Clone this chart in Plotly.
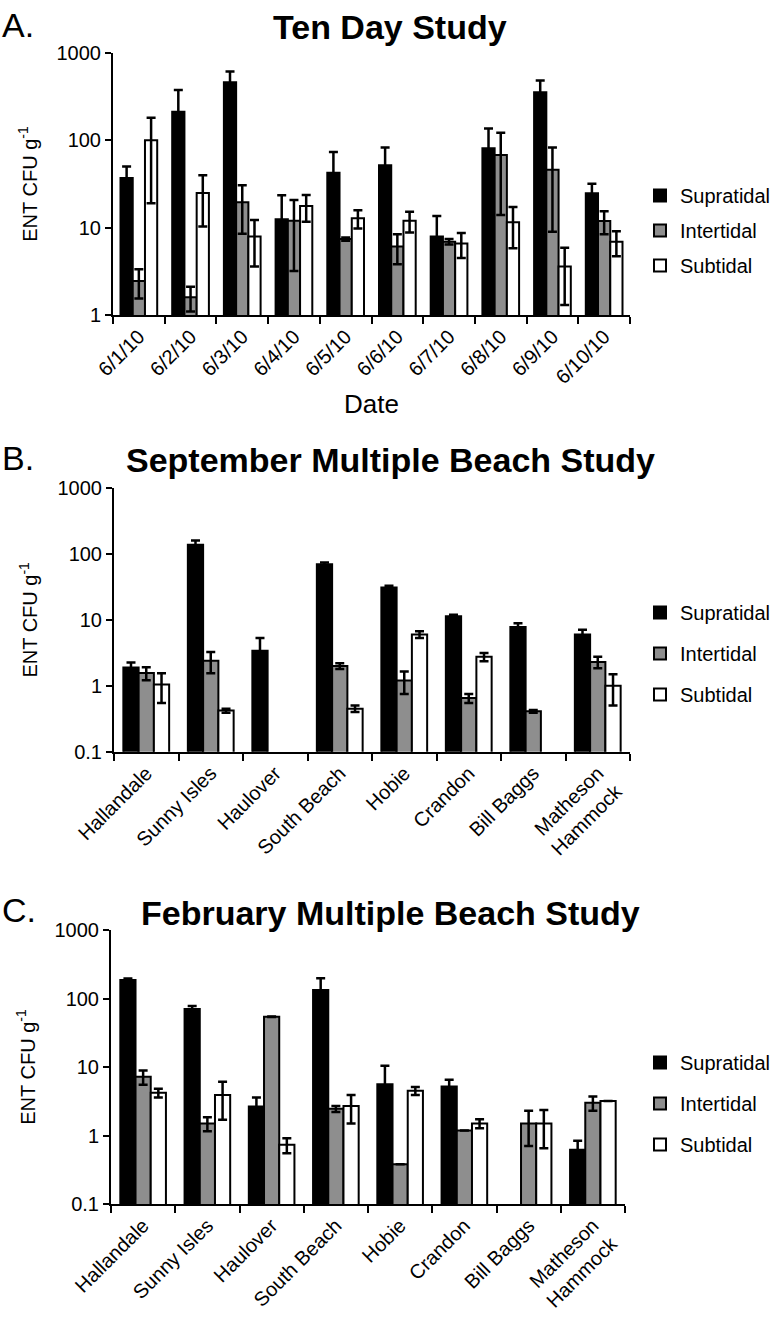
import plotly.graph_objects as go

# ---------------- data ----------------
dates = ["6/1/10", "6/2/10", "6/3/10", "6/4/10", "6/5/10",
         "6/6/10", "6/7/10", "6/8/10", "6/9/10", "6/10/10"]
a_supra = [37, 213, 463, 12.5, 42.6, 52, 7.9, 81, 356, 24.8]
a_supra_err = [13, 165, 150, 11, 31, 31, 5.7, 56, 127, 7]
a_inter = [2.45, 1.6, 19.5, 12, 7.4, 6.1, 6.9, 68, 46, 11.9]
a_inter_err = [0.9, 0.5, 11, 8.8, 0.3, 2.3, 0.5, 54, 37, 3.5]
a_sub = [100, 25, 7.9, 17.7, 12.8, 12, 6.6, 11.5, 3.6, 6.9]
a_sub_err = [81, 14.7, 4.3, 6, 3, 3.2, 2.1, 5.7, 2.3, 2.2]

beaches = ["Hallandale", "Sunny Isles", "Haulover", "South Beach", "Hobie",
           "Crandon", "Bill Baggs", "Matheson<br>Hammock"]
b_supra = [1.9, 138, 3.4, 70, 31, 11.3, 7.8, 6.0]
b_supra_err = [0.35, 22, 1.9, 4, 2, 0.7, 1.1, 1.1]
b_inter = [1.56, 2.4, None, 2.0, 1.2, 0.65, 0.41, 2.3]
b_inter_err = [0.35, 0.85, 0, 0.2, 0.45, 0.1, 0.02, 0.45]
b_sub = [1.05, 0.42, None, 0.45, 6.0, 2.75, None, 1.0]
b_sub_err = [0.5, 0.03, 0, 0.05, 0.7, 0.4, 0, 0.5]

c_supra = [186, 70, 2.65, 133, 5.6, 5.2, None, 0.62]
c_supra_err = [10, 8, 0.95, 64, 4.8, 1.3, 0, 0.22]
c_inter = [7.2, 1.5, 54, 2.45, 0.38, 1.18, 1.5, 3.0]
c_inter_err = [1.7, 0.35, 0.5, 0.25, 0, 0, 0.8, 0.7]
c_sub = [4.2, 3.9, 0.73, 2.7, 4.5, 1.5, 1.5, 3.2]
c_sub_err = [0.6, 2.2, 0.18, 1.2, 0.6, 0.22, 0.85, 0]

series_names = ["Supratidal", "Intertidal", "Subtidal"]
series_colors = ["#000000", "#8e8e8e", "#ffffff"]

titles = ["Ten Day Study", "September Multiple Beach Study",
          "February Multiple Beach Study"]
panel_labels = ["A.", "B.", "C."]
y_ticks_a = [1, 10, 100, 1000]
y_ticks_a_text = ["1", "10", "100", "1000"]
y_ticks_bc = [0.1, 1, 10, 100, 1000]
y_ticks_bc_text = ["0.1", "1", "10", "100", "1000"]
y_title = "ENT CFU g<sup>-1</sup>"
x_title_a = "Date"

# ---------------- geometry ----------------
W, H = 780, 1319
FONT = "Liberation Sans, Arial, sans-serif"


def px_x(x):
    return x / W


def px_y(y):
    return (H - y) / H


panels = [
    dict(cats=dates, data=[(a_supra, a_supra_err), (a_inter, a_inter_err), (a_sub, a_sub_err)],
         xdom=(113, 630), ydom=(315, 53), yrange=[0, 3], legend="legend", legtop=176, gap=6,
         tv=y_ticks_a, tt=y_ticks_a_text),
    dict(cats=beaches, data=[(b_supra, b_supra_err), (b_inter, b_inter_err), (b_sub, b_sub_err)],
         xdom=(114, 630), ydom=(751.7, 488), yrange=[-1, 3], legend="legend2", legtop=593, gap=12,
         tv=y_ticks_bc, tt=y_ticks_bc_text),
    dict(cats=beaches, data=[(c_supra, c_supra_err), (c_inter, c_inter_err), (c_sub, c_sub_err)],
         xdom=(111, 625), ydom=(1204, 930), yrange=[-1, 3], legend="legend3", legtop=1043, gap=12,
         tv=y_ticks_bc, tt=y_ticks_bc_text),
]

fig = go.Figure()

for i, p in enumerate(panels):
    sfx = "" if i == 0 else str(i + 1)
    for j, (vals, errs) in enumerate(p["data"]):
        fig.add_trace(go.Bar(
            x=p["cats"], y=vals, name=series_names[j],
            xaxis="x" + sfx, yaxis="y" + sfx,
            legend=p["legend"], legendgroup=f"{p['legend']}_{j}",
            marker=dict(color=series_colors[j], line=dict(color="black", width=2)),
            error_y=dict(type="data", array=errs, visible=True, color="black",
                         thickness=2.5, width=4.5),
        ))

layout = dict(
    width=W, height=H, margin=dict(l=0, r=0, t=0, b=0, autoexpand=False),
    paper_bgcolor="white", plot_bgcolor="white",
    font=dict(family=FONT, color="black", size=20),
    barmode="group", bargap=0.29, bargroupgap=0,
    showlegend=True,
)

annotations = []
for i, p in enumerate(panels):
    sfx = "" if i == 0 else str(i + 1)
    xa = dict(
        domain=[px_x(p["xdom"][0]), px_x(p["xdom"][1])],
        anchor="y" + sfx, type="category", automargin=False,
        showline=True, linecolor="black", linewidth=2,
        ticks="outside", ticklen=7, tickwidth=2, tickcolor="black",
        tickson="boundaries", tickangle=-45,
        tickfont=dict(size=20, family=FONT), showgrid=False, zeroline=False,
    )
    if i == 0:
        xa["title"] = dict(text=x_title_a, font=dict(size=26, family=FONT), standoff=8)
    ya = dict(
        domain=[px_y(p["ydom"][0]), px_y(p["ydom"][1])],
        anchor="x" + sfx, type="log", range=p["yrange"], automargin=False,
        tickvals=p["tv"], ticktext=p["tt"],
        showline=True, linecolor="black", linewidth=2,
        ticks="outside", ticklen=6, tickwidth=2, tickcolor="black",
        tickfont=dict(size=20, family=FONT), showgrid=False, zeroline=False,
        title=dict(text=y_title, font=dict(size=20, family=FONT), standoff=14),
    )
    layout["xaxis" + sfx] = xa
    layout["yaxis" + sfx] = ya
    layout[p["legend"]] = dict(
        x=px_x(640), xanchor="left", y=px_y(p["legtop"]), yanchor="top",
        font=dict(size=20, family=FONT), bgcolor="rgba(0,0,0,0)",
        traceorder="grouped", tracegroupgap=p["gap"],
    )

title_y = [27, 460, 913]
label_y = [25, 458, 910]
for i in range(3):
    annotations.append(dict(
        text="<b>" + titles[i] + "</b>", x=0.5, y=px_y(title_y[i]),
        xref="paper", yref="paper", xanchor="center", yanchor="middle",
        showarrow=False, font=dict(size=34, family=FONT, color="black"),
    ))
    annotations.append(dict(
        text=panel_labels[i], x=0.0, y=px_y(label_y[i]),
        xref="paper", yref="paper", xanchor="left", yanchor="middle",
        showarrow=False, font=dict(size=34, family=FONT, color="black"),
    ))
layout["annotations"] = annotations

fig.update_layout(**layout)
fig.write_html("out.html", config={"displayModeBar": False},
               post_script="document.body.style.margin='0';")
